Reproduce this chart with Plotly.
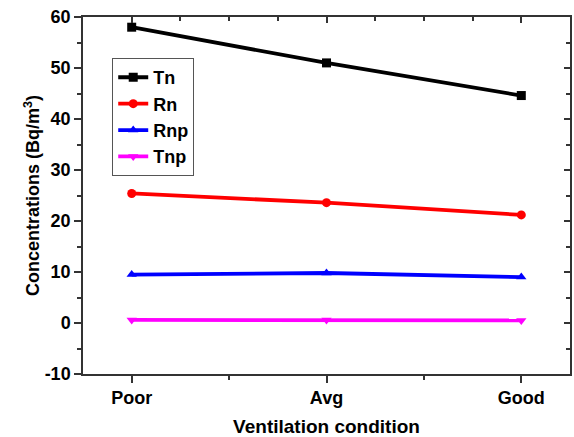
import plotly.graph_objects as go

categories = ["Poor", "Avg", "Good"]
tn = [58.0, 51.0, 44.6]
rn = [25.4, 23.6, 21.2]
rnp = [9.5, 9.8, 9.0]
tnp = [0.6, 0.6, 0.5]

x_idx = list(range(len(categories)))
series = [
    ("Tn", tn, "black", "square"),
    ("Rn", rn, "red", "circle"),
    ("Rnp", rnp, "blue", "triangle-up"),
    ("Tnp", tnp, "magenta", "triangle-down"),
]

fig = go.Figure()
for name, vals, col, sym in series:
    fig.add_trace(go.Scatter(
        x=x_idx, y=vals, name="<b>%s</b>" % name, mode="lines+markers",
        line=dict(color=col, width=3.8),
        marker=dict(symbol=sym, size=9, color=col),
    ))

# invisible trace for top/right mirrored inside ticks
fig.add_trace(go.Scatter(x=[0], y=[0], xaxis="x2", yaxis="y2",
                         mode="markers", marker=dict(opacity=0),
                         showlegend=False, hoverinfo="skip"))

fam = "Liberation Sans, Arial, sans-serif"
axcol = "#333333"
yt = list(range(-10, 61, 10))

fig.update_layout(
    width=574, height=437,
    margin=dict(l=83, r=4, t=17, b=63),
    paper_bgcolor="white", plot_bgcolor="white",
    font=dict(family=fam, size=18, color="black"),
    showlegend=True,
    legend=dict(
        x=0.06, y=0.885, xanchor="left", yanchor="top",
        bgcolor="white", bordercolor="#555555", borderwidth=1,
        font=dict(family=fam, size=18, color="black"),
        tracegroupgap=0, itemwidth=30,
    ),
    xaxis=dict(
        range=[-0.25, 2.25], tickmode="array", tickvals=x_idx,
        ticktext=["<b>%s</b>" % c for c in categories],
        tickfont=dict(size=18),
        showgrid=False, zeroline=False, showline=True, linecolor=axcol, linewidth=1.5,
        ticks="outside", ticklen=7, tickwidth=1.5, tickcolor=axcol,
        minor=dict(tickvals=[0.5, 1.5], ticks="outside", ticklen=4, tickwidth=1.5, tickcolor=axcol),
        title=dict(text="<b>Ventilation condition</b>", standoff=12, font=dict(size=19)),
    ),
    yaxis=dict(
        range=[-10, 60], tickmode="array", tickvals=yt,
        ticktext=["<b>%d</b>" % v for v in yt],
        tickfont=dict(size=18),
        showgrid=False, zeroline=False, showline=True, linecolor=axcol, linewidth=1.5,
        ticks="outside", ticklen=7, tickwidth=1.5, tickcolor=axcol,
        minor=dict(tickvals=list(range(-5, 60, 10)), ticks="outside", ticklen=4, tickwidth=1.5, tickcolor=axcol),
        title=dict(text="<b>Concentrations (Bq/m<sup>3</sup>)</b>", standoff=0, font=dict(size=18)),
    ),
    xaxis2=dict(
        overlaying="x", side="top", range=[-0.25, 2.25],
        tickvals=[0, 1, 2], showticklabels=False, showgrid=False, zeroline=False,
        showline=True, linecolor=axcol, linewidth=1.5,
        ticks="inside", ticklen=6, tickwidth=1.5, tickcolor=axcol,
        minor=dict(tickvals=[0.25, 0.5, 0.75, 1.25, 1.5, 1.75], ticks="inside", ticklen=4, tickwidth=1.5, tickcolor=axcol),
    ),
    yaxis2=dict(
        overlaying="y", side="right", range=[-10, 60],
        tickvals=yt, showticklabels=False, showgrid=False, zeroline=False,
        showline=True, linecolor=axcol, linewidth=1.5,
        ticks="inside", ticklen=6, tickwidth=1.5, tickcolor=axcol,
        minor=dict(tickvals=list(range(-5, 60, 10)), ticks="inside", ticklen=4, tickwidth=1.5, tickcolor=axcol),
    ),
)

fig.write_html("out.html")
